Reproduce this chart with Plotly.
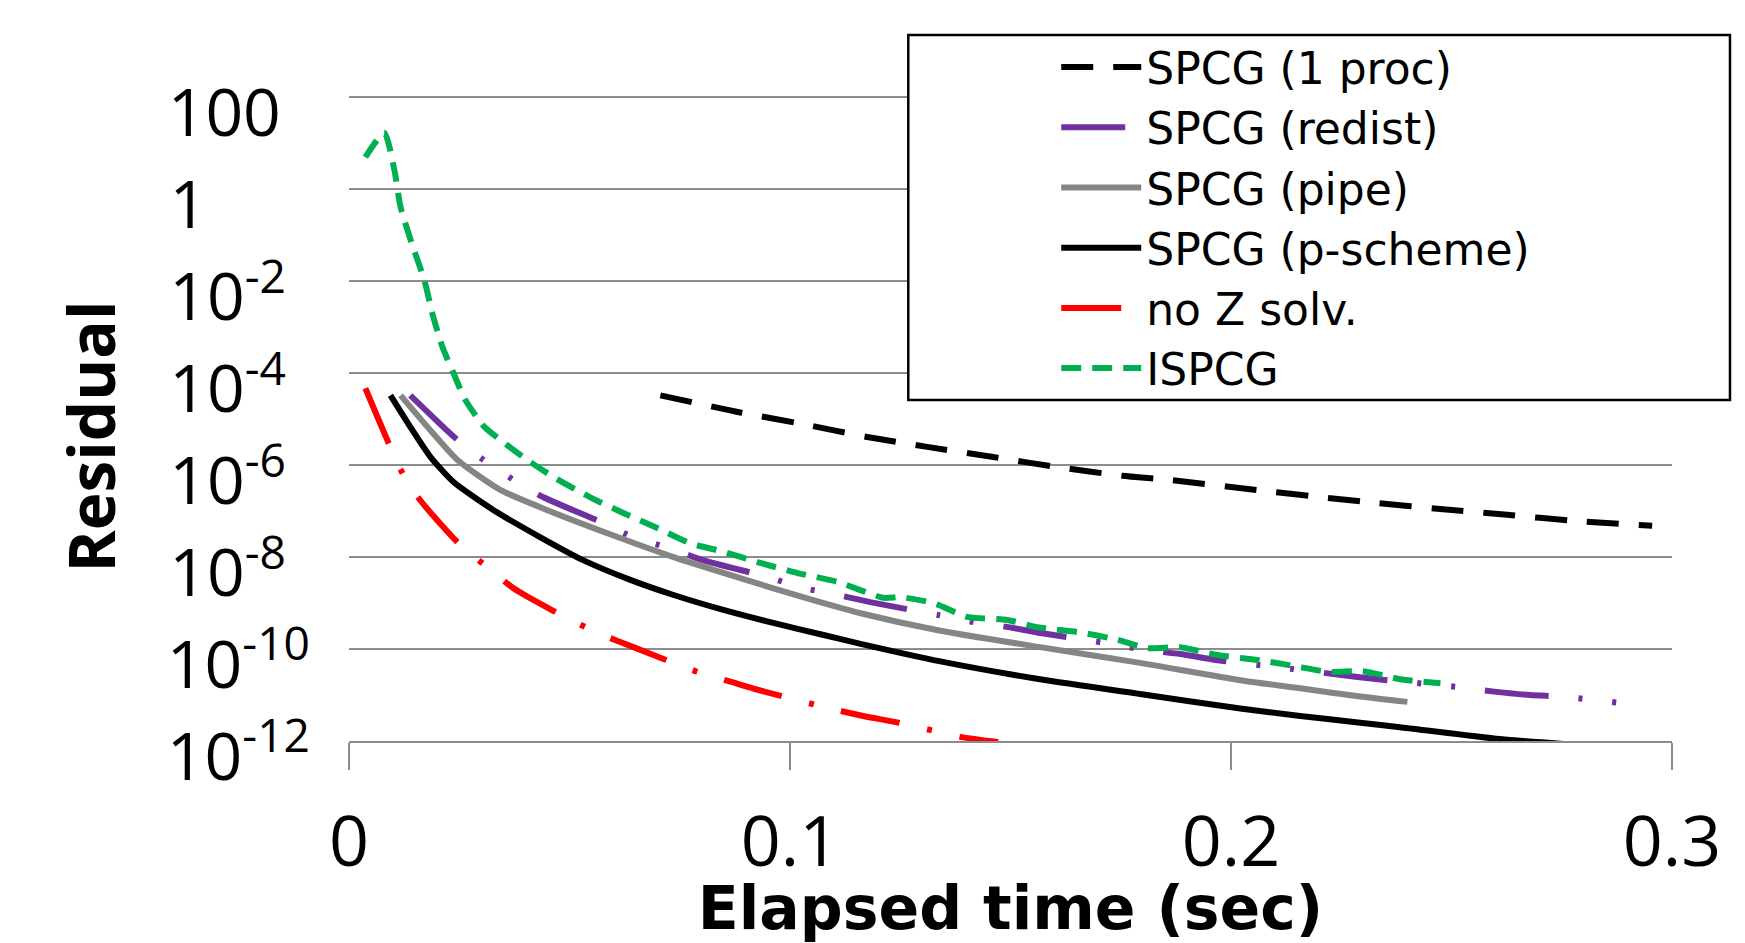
import plotly.graph_objects as go

# ---- data (elapsed time in sec, residual) ----
x_1proc = [0.0706, 0.0887, 0.1030, 0.1175, 0.1311, 0.1461, 0.1606, 0.1753, 0.1857,
           0.2043, 0.2186, 0.2333, 0.2481, 0.2626, 0.2773, 0.2955]
y_1proc = [3.3e-5, 1.4e-5, 7.8e-6, 4.1e-6, 2.5e-6, 1.5e-6, 9.1e-7, 5.9e-7, 4.8e-7,
           3.0e-7, 2.1e-7, 1.5e-7, 1.1e-7, 8.3e-8, 6.2e-8, 4.8e-8]

x_redist = [0.0139, 0.0241, 0.0305, 0.0370, 0.0441, 0.0577, 0.0645, 0.0724, 0.0804, 0.0949,
            0.1024, 0.1108, 0.1182, 0.1336, 0.1413, 0.1495, 0.1572, 0.1726, 0.1806, 0.1885,
            0.1965, 0.2119, 0.2282, 0.2354, 0.2513, 0.2592, 0.2678, 0.2758, 0.2877]
y_redist = [3.3e-5, 3.9e-6, 1.3e-6, 5.0e-7, 2.0e-7, 5.5e-8, 2.7e-8, 1.6e-8, 8.5e-9, 3.7e-9,
            2.2e-9, 1.5e-9, 1.05e-9, 5.5e-10, 3.9e-10, 3.0e-10, 2.2e-10, 1.3e-10, 9.5e-11, 7.8e-11,
            5.8e-11, 3.9e-11, 2.5e-11, 2.1e-11, 1.5e-11, 1.2e-11, 1.0e-11, 9.1e-12, 6.8e-12]

x_pipe = [0.0117, 0.0178, 0.0246, 0.0343, 0.0450, 0.0586, 0.0736, 0.0887, 0.1039,
          0.1160, 0.1341, 0.1567, 0.1794, 0.2021, 0.2157, 0.2293, 0.2400]
y_pipe = [3.3e-5, 6.8e-6, 1.3e-6, 2.9e-7, 1.05e-7, 3.3e-8, 1.0e-8, 3.5e-9, 1.26e-9,
          6.0e-10, 2.5e-10, 1.1e-10, 5.0e-11, 2.1e-11, 1.4e-11, 9.3e-12, 7.1e-12]

x_pscheme = [0.0094, 0.0139, 0.0185, 0.0237, 0.0328, 0.0434, 0.0532, 0.0638, 0.0736, 0.0849,
             0.0962, 0.1069, 0.1160, 0.1341, 0.1567, 0.1794, 0.2021, 0.2157, 0.2293, 0.2383,
             0.2610, 0.2800]
y_pscheme = [3.3e-5, 6.8e-6, 1.5e-6, 4.3e-7, 1.05e-7, 2.7e-8, 8.5e-9, 3.2e-9, 1.5e-9, 7.1e-10,
             3.7e-10, 2.1e-10, 1.3e-10, 5.4e-11, 2.2e-11, 1.05e-11, 5.1e-12, 3.5e-12, 2.5e-12, 2.0e-12,
             1.1e-12, 8.0e-13]

x_noz = [0.0037, 0.0090, 0.0121, 0.0162, 0.0253, 0.0316, 0.0373, 0.0502, 0.0577, 0.0645,
         0.0790, 0.0869, 0.0940, 0.1087, 0.1166, 0.1246, 0.1393, 0.1472]
y_noz = [4.7e-5, 3.0e-6, 6.8e-7, 1.7e-7, 1.8e-8, 5.8e-9, 2.1e-9, 4.3e-10, 2.0e-10, 1.1e-10,
         3.2e-11, 1.9e-11, 1.2e-11, 5.2e-12, 3.5e-12, 2.5e-12, 1.2e-12, 9.5e-13]

x_ispcg = [0.0037, 0.0080, 0.0103, 0.0117, 0.0142, 0.0171, 0.0189, 0.0212, 0.0237, 0.0264,
           0.0307, 0.0344, 0.0404, 0.0464, 0.0547, 0.0622, 0.0699, 0.0774, 0.0849, 0.0926,
           0.1017, 0.1107, 0.1212, 0.1250, 0.1325, 0.1402, 0.1493, 0.1561, 0.1658, 0.1742,
           0.1810, 0.1885, 0.1969, 0.2060, 0.2142, 0.2219, 0.2300, 0.2384, 0.2475]
y_ispcg = [5.0, 17.0, 2.6, 0.41, 0.068, 0.0105, 2.0e-3, 3.7e-4, 1.0e-4, 2.6e-5,
           6.8e-6, 3.5e-6, 1.3e-6, 5.5e-7, 2.0e-7, 9.1e-8, 4.3e-8, 2.0e-8, 1.3e-8, 7.8e-9,
           4.5e-9, 2.9e-9, 1.3e-9, 1.35e-9, 1.0e-9, 5.0e-10, 4.3e-10, 3.0e-10, 2.3e-10, 1.6e-10,
           1.05e-10, 1.1e-10, 7.4e-11, 5.8e-11, 4.3e-11, 3.2e-11, 3.3e-11, 2.2e-11, 1.8e-11]

NB = "\u00a0"
y_tickvals = [1e2, 1, 1e-2, 1e-4, 1e-6, 1e-8, 1e-10, 1e-12]
# trailing no-break spaces pad every label to the same width, so the labels read left-aligned
y_ticktext = ["100" + NB + "<sup>" + NB + "</sup>",
              "1" + NB * 6,
              "10<sup>-2" + NB * 2 + "</sup>",
              "10<sup>-4" + NB * 2 + "</sup>",
              "10<sup>-6" + NB * 2 + "</sup>",
              "10<sup>-8" + NB * 2 + "</sup>",
              "10<sup>-10</sup>",
              "10<sup>-12</sup>"]
x_tickvals = [0, 0.1, 0.2, 0.3]
x_ticktext = ["0", "0.1", "0.2", "0.3"]

series = [
    ("SPCG (1 proc)", x_1proc, y_1proc, "#000000", "32px,20px"),
    ("SPCG (redist)", x_redist, y_redist, "#7030A0", "64px,30px,4px,30px,4px,30px"),
    ("SPCG (pipe)", x_pipe, y_pipe, "#858585", "solid"),
    ("SPCG (p-scheme)", x_pscheme, y_pscheme, "#000000", "solid"),
    ("no Z solv.", x_noz, y_noz, "#FF0000", "60px,28px,5px,28px"),
    ("ISPCG", x_ispcg, y_ispcg, "#00B050", "20px,11px"),
]

fig = go.Figure()
for name, xs, ys, color, dash in series:
    fig.add_trace(go.Scatter(
        x=xs, y=ys, mode="lines", name=name, legendgroup=name,
        line=dict(color=color, width=6, dash=dash, shape="spline", smoothing=0.6),
    ))

W, H = 1745, 943
L, R, T, B = 348.5, 73, 96, 202
pw, ph = W - L - R, H - T - B

def px_x(p):
    return (p - L) / pw

def px_y(p):
    return (H - B - p) / ph

fig.add_shape(type="rect", xref="paper", yref="paper",
              x0=px_x(908), x1=px_x(1730), y0=px_y(400), y1=px_y(35),
              line=dict(color="black", width=2.5), fillcolor="white", layer="above")

fig.add_annotation(text="<b>Residual</b>", xref="paper", yref="paper",
                   x=px_x(89), y=px_y(437), xanchor="center", yanchor="middle",
                   textangle=-90, showarrow=False,
                   font=dict(family="Open Sans", size=64, color="black"))

fig.update_layout(
    width=W, height=H,
    margin=dict(l=L, r=R, t=T, b=B, pad=0),
    paper_bgcolor="white", plot_bgcolor="white",
    font=dict(family="Open Sans", color="black"),
    showlegend=True,
    legend=dict(
        x=px_x(1056), xanchor="left", y=px_y(32), yanchor="top",
        bgcolor="rgba(0,0,0,0)", borderwidth=0,
        font=dict(family="DejaVu Sans", size=44, color="black"),
        tracegroupgap=0, itemwidth=80,
    ),
    xaxis=dict(
        range=[0, 0.3], tickmode="array", tickvals=x_tickvals, ticktext=x_ticktext,
        showgrid=False, zeroline=False,
        showline=True, linecolor="#8c8c8c", linewidth=2,
        ticks="outside", ticklen=27, tickwidth=2, tickcolor="#8c8c8c",
        tickfont=dict(family="Open Sans", size=70, color="black"),
        ticklabelstandoff=12,
        title=dict(text="<b>Elapsed time (sec)</b>", standoff=0,
                   font=dict(family="DejaVu Sans", size=60, color="black")),
        automargin=False,
    ),
    yaxis=dict(
        type="log", range=[-12, 2.03], tickmode="array", tickvals=y_tickvals, ticktext=y_ticktext,
        showgrid=True, gridcolor="#8c8c8c", gridwidth=2, zeroline=False, showline=False,
        ticks="", tickfont=dict(family="Open Sans", size=66, color="black"),
        ticklabelstandoff=38, ticklabelshift=16,
        automargin=False,
    ),
)

fig.write_html("out.html", config={"displayModeBar": False},
               post_script="document.body.style.margin='0';document.body.style.overflow='hidden';")
